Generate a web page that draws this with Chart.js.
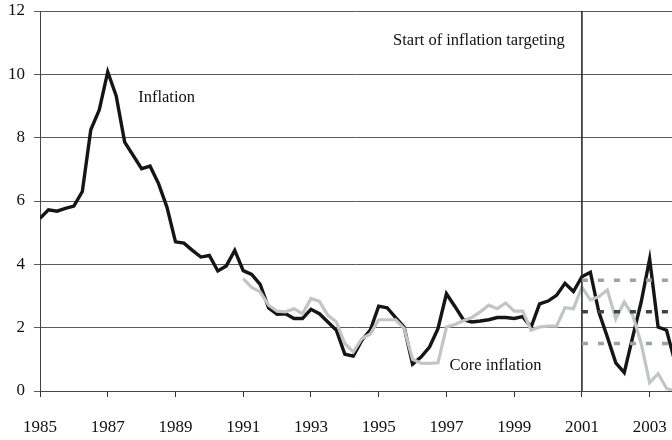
<!DOCTYPE html>
<html>
<head>
<meta charset="utf-8">
<script src="https://cdn.jsdelivr.net/npm/chart.js@4"></script>
<style>
    html, body { margin: 0; padding: 0; background: #fff; }
    #wrap { width: 672px; height: 440px; }
</style>
</head>
<body>
<div id="wrap"><canvas id="chart" width="672" height="440"></canvas></div>
<script>
// Quarterly inflation, per cent (first point is 1985 Q1)
const startYear = 1985;
const inflation = [
    5.45, 5.72, 5.68, 5.77,
    5.84, 6.30, 8.25, 8.88,
    10.08, 9.32, 7.86, 7.44,
    7.02, 7.10, 6.55, 5.80,
    4.71, 4.67, 4.44, 4.23,
    4.28, 3.79, 3.95, 4.44,
    3.80, 3.68, 3.37, 2.62,
    2.42, 2.44, 2.29, 2.29,
    2.58, 2.44, 2.18, 1.92,
    1.16, 1.10, 1.60, 1.92,
    2.68, 2.63, 2.32, 2.02,
    0.85, 1.07, 1.39, 1.97,
    3.07, 2.67, 2.25, 2.18,
    2.21, 2.25, 2.32, 2.32,
    2.29, 2.35, 2.02, 2.75,
    2.84, 3.02, 3.40, 3.14,
    3.61, 3.75, 2.49, 1.71,
    0.89, 0.58, 1.71, 2.81,
    4.17, 2.02, 1.92, 0.90
];

// Core inflation starts in 1991 Q1
const coreStartYear = 1991;
const coreInflation = [
    3.55, 3.27, 3.13, 2.71,
    2.52, 2.50, 2.60, 2.44,
    2.92, 2.83, 2.39, 2.18,
    1.50, 1.23, 1.65, 1.80,
    2.25, 2.25, 2.25, 1.98,
    1.00, 0.88, 0.87, 0.89,
    2.02, 2.10, 2.22, 2.32,
    2.50, 2.71, 2.60, 2.78,
    2.52, 2.52, 1.92, 2.02,
    2.05, 2.05, 2.63, 2.60,
    3.28, 2.88, 2.98, 3.19,
    2.28, 2.81, 2.39, 1.50,
    0.26, 0.55, 0.08, 0.00
];

// Inflation target: upper bound, target, lower bound
const targetLevels = [3.5, 2.5, 1.5];
const targetColors = ['#9ca1a5', '#3d4548', '#9ca1a5'];
const targetStart = 2001;
const targetEnd = 2004;

const xTickYears = [1985, 1987, 1989, 1991, 1993, 1995, 1997, 1999, 2001, 2003];
const yTickValues = [0, 2, 4, 6, 8, 10, 12];

const labelFont = { family: '"Liberation Serif", "Times New Roman", serif', size: 17 };

function toPoints(values, firstYear) {
    return values.map((v, i) => ({ x: firstYear + i / 4, y: v }));
}

const datasets = [];

targetLevels.forEach((level, i) => {
    datasets.push({
        label: 'target ' + level,
        data: [{ x: targetStart, y: level }, { x: targetEnd, y: level }],
        borderColor: targetColors[i],
        borderWidth: 3.5,
        borderDash: [6, 10],
        pointRadius: 0
    });
});

// vertical marker at the start of inflation targeting
datasets.push({
    label: 'start',
    data: [{ x: targetStart, y: yTickValues[0] }, { x: targetStart, y: yTickValues[yTickValues.length - 1] }],
    borderColor: '#1e1e1e',
    borderWidth: 1.5,
    pointRadius: 0
});

datasets.push({
    label: 'Core inflation',
    data: toPoints(coreInflation, coreStartYear),
    borderColor: '#c2c4c8',
    borderWidth: 3.2,
    pointRadius: 0,
    tension: 0
});

datasets.push({
    label: 'Inflation',
    data: toPoints(inflation, startYear),
    borderColor: '#151515',
    borderWidth: 3.4,
    pointRadius: 0,
    tension: 0
});

// text notes placed in data coordinates
const notes = [
    { text: 'Inflation', x: 1987.9, y: 9.27, align: 'left' },
    { text: 'Start of inflation targeting', x: 2000.49, y: 11.07, align: 'right' },
    { text: 'Core inflation', x: 1997.09, y: 0.81, align: 'left' }
];

const notesPlugin = {
    id: 'notes',
    afterDatasetsDraw(chart) {
        const ctx = chart.ctx;
        const xs = chart.scales.x;
        const ys = chart.scales.y;
        ctx.save();
        ctx.font = '16.5px ' + labelFont.family;
        ctx.fillStyle = '#111';
        ctx.textBaseline = 'middle';
        notes.forEach(n => {
            ctx.textAlign = n.align;
            ctx.fillText(n.text, xs.getPixelForValue(n.x), ys.getPixelForValue(n.y));
        });
        ctx.restore();
    }
};

new Chart(document.getElementById('chart'), {
    type: 'line',
    data: { datasets },
    plugins: [notesPlugin],
    options: {
        responsive: false,
        devicePixelRatio: 1,
        animation: false,
        layout: { padding: { top: 11, right: 0, left: 0, bottom: 0 } },
        plugins: {
            legend: { display: false },
            tooltip: { enabled: false }
        },
        scales: {
            x: {
                type: 'linear',
                min: 1985,
                max: 2003.66,
                afterBuildTicks: scale => {
                    scale.ticks = xTickYears.map(v => ({ value: v }));
                },
                afterFit: scale => {
                    scale.height = 49;
                    scale.paddingLeft = 0;
                    scale.paddingRight = 0;
                },
                ticks: {
                    color: '#111',
                    font: labelFont,
                    padding: 20,
                    maxRotation: 0,
                    autoSkip: false,
                    callback: v => String(v)
                },
                grid: {
                    drawOnChartArea: false,
                    drawTicks: true,
                    tickLength: 6,
                    color: '#333'
                },
                border: { display: true, color: '#444', width: 1 }
            },
            y: {
                min: 0,
                max: 12,
                afterBuildTicks: scale => {
                    scale.ticks = yTickValues.map(v => ({ value: v }));
                },
                afterFit: scale => {
                    scale.width = 40;
                    scale.paddingTop = 0;
                    scale.paddingBottom = 0;
                },
                ticks: {
                    color: '#111',
                    font: labelFont,
                    padding: 9
                },
                grid: {
                    color: '#5a5a5a',
                    lineWidth: 1,
                    tickLength: 6
                },
                border: { display: true, color: '#444', width: 1 }
            }
        }
    }
});
</script>
</body>
</html>
